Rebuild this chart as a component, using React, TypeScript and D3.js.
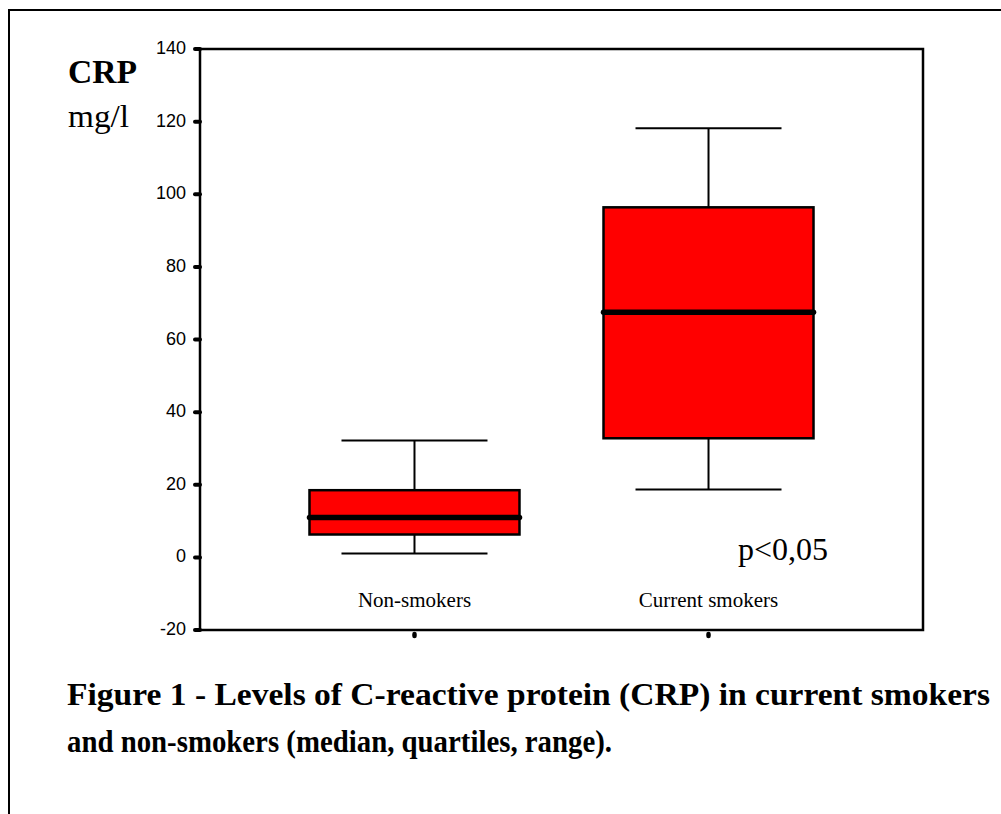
import React from "react";
import * as d3 from "d3";

const categories = ["Non-smokers", "Current smokers"];
const minValues = [1.1, 18.7];
const q1Values = [6.3, 32.8];
const medianValues = [11.0, 67.5];
const q3Values = [18.5, 96.4];
const maxValues = [32.2, 118.2];
const yTicks = [-20, 0, 20, 40, 60, 80, 100, 120, 140];

const W = 1001;
const H = 814;
const left = 200, right = 923, top = 49, bottom = 630;

export default function App() {
  const x = d3.scalePoint<string>().domain(categories).range([left, right]).padding(0.7295);
  const y = d3.scaleLinear().domain([-20, 140]).range([bottom, top]);
  const boxHalf = 105;
  const capHalf = 73;
  const serif = "'Liberation Serif', 'Times New Roman', serif";
  const sans = "'Liberation Sans', Arial, sans-serif";

  return (
    <svg width={W} height={H} style={{ position: "absolute", left: 0, top: 0, background: "#fff" }}>
      {/* outer frame */}
      <path d={`M9,${H} L9,10 L${W},10`} fill="none" stroke="#000" strokeWidth={2} />

      {/* y label */}
      <text x={68} y={83} fontFamily={serif} fontWeight="bold" fontSize={33} textLength={69} lengthAdjust="spacingAndGlyphs">CRP</text>
      <text x={68} y={127} fontFamily={serif} fontSize={32} textLength={61} lengthAdjust="spacingAndGlyphs">mg/l</text>

      {/* boxes */}
      {categories.map((c, i) => {
        const cx = x(c)!;
        return (
          <g key={c}>
            <line x1={cx} x2={cx} y1={y(maxValues[i])} y2={y(q3Values[i])} stroke="#000" strokeWidth={2} />
            <line x1={cx} x2={cx} y1={y(q1Values[i])} y2={y(minValues[i])} stroke="#000" strokeWidth={2} />
            <line x1={cx - capHalf} x2={cx + capHalf} y1={y(maxValues[i])} y2={y(maxValues[i])} stroke="#000" strokeWidth={2} />
            <line x1={cx - capHalf} x2={cx + capHalf} y1={y(minValues[i])} y2={y(minValues[i])} stroke="#000" strokeWidth={2} />
            <rect x={cx - boxHalf} y={y(q3Values[i])} width={boxHalf * 2} height={y(q1Values[i]) - y(q3Values[i])} fill="#ff0000" stroke="#000" strokeWidth={2.5} />
            <line x1={cx - boxHalf} x2={cx + boxHalf} y1={y(medianValues[i])} y2={y(medianValues[i])} stroke="#000" strokeWidth={5.5} strokeLinecap="round" />
            <text x={cx} y={607} textAnchor="middle" fontFamily={serif} fontSize={21}>{c}</text>
            <line x1={cx} x2={cx} y1={634} y2={636} stroke="#000" strokeWidth={4.5} strokeLinecap="round" />
          </g>
        );
      })}

      {/* plot frame */}
      <rect x={left} y={top} width={right - left} height={bottom - top} fill="none" stroke="#000" strokeWidth={2.5} />

      {/* y ticks */}
      {yTicks.map((t) => (
        <g key={t}>
          <line x1={195} x2={200} y1={y(t)} y2={y(t)} stroke="#000" strokeWidth={4} strokeLinecap="round" />
          <text x={186} y={y(t) + 5} textAnchor="end" fontFamily={sans} fontSize={18}>{t}</text>
        </g>
      ))}

      <text x={738} y={560} fontFamily={serif} fontSize={32}>p&lt;0,05</text>

      {/* caption */}
      <text x={67} y={705} fontFamily={serif} fontWeight="bold" fontSize={32} textLength={923} lengthAdjust="spacingAndGlyphs">Figure 1 - Levels of C-reactive protein (CRP) in current smokers</text>
      <text x={67} y={752} fontFamily={serif} fontWeight="bold" fontSize={32} textLength={545} lengthAdjust="spacingAndGlyphs">and non-smokers (median, quartiles, range).</text>
    </svg>
  );
}
